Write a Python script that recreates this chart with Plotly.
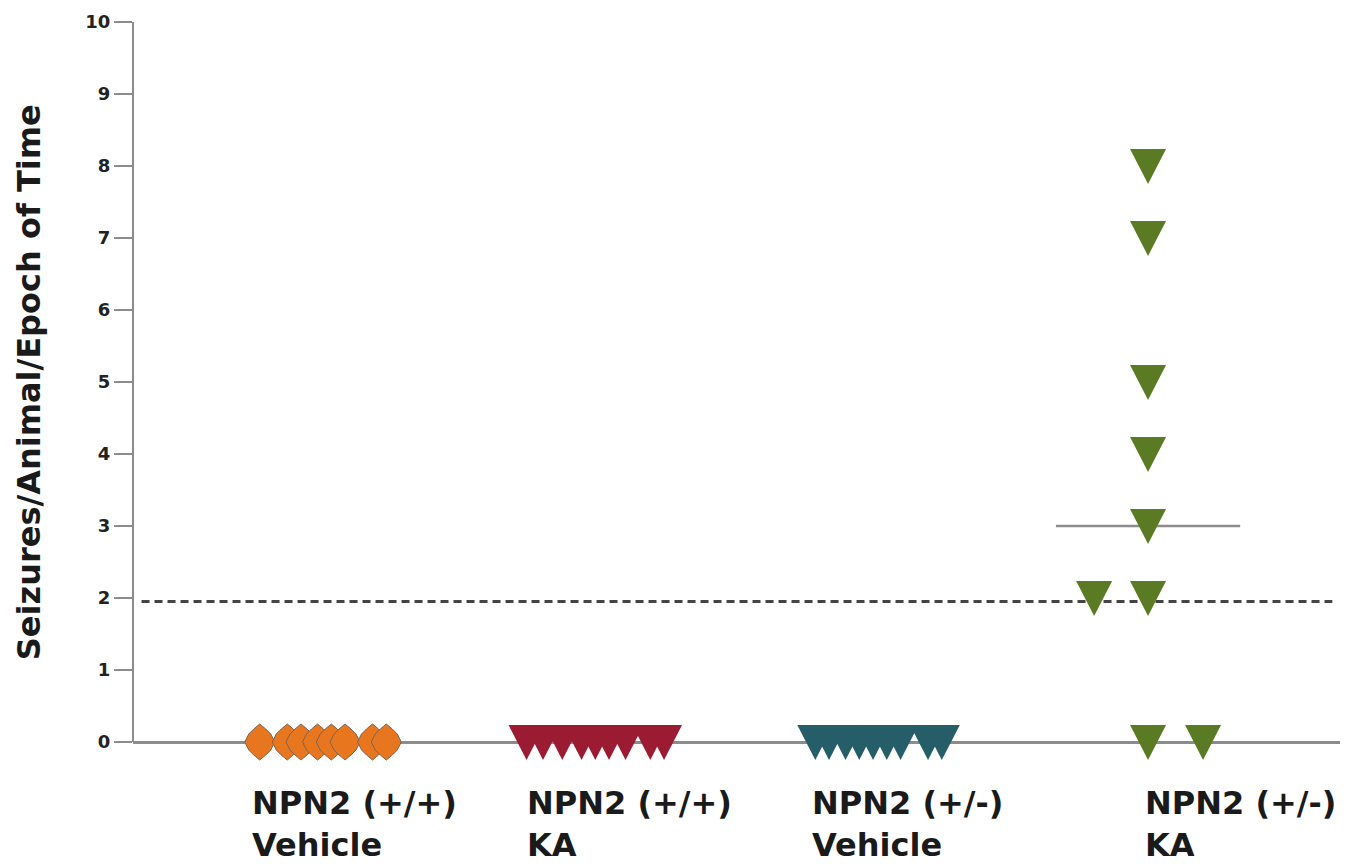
import plotly.graph_objects as go

# Seizure counts per animal for each treatment group
groups = ["NPN2 (+/+)<br>Vehicle", "NPN2 (+/+)<br>KA", "NPN2 (+/-)<br>Vehicle", "NPN2 (+/-)<br>KA"]

wt_vehicle = [0, 0, 0, 0, 0, 0, 0, 0]
wt_ka = [0, 0, 0, 0, 0, 0, 0, 0, 0]
het_vehicle = [0, 0, 0, 0, 0, 0, 0, 0, 0]
het_ka = [8, 7, 5, 4, 3, 2, 2, 0, 0]

# horizontal scatter offsets of each animal within its group
wt_vehicle_jitter = [-0.23, -0.13, -0.08, -0.02, 0.03, 0.08, 0.18, 0.23]
wt_ka_jitter = [-0.26, -0.20, -0.13, -0.06, -0.01, 0.04, 0.10, 0.19, 0.24]
het_vehicle_jitter = [-0.21, -0.16, -0.10, -0.05, 0.00, 0.05, 0.10, 0.20, 0.25]
het_ka_jitter = [0.0, 0.0, 0.0, 0.0, 0.0, -0.196, 0.0, 0.0, 0.2]

median_het_ka = 3
threshold = 1.95

yticks = list(range(0, 11))

FONT = "DejaVu Sans"
AXIS_GREY = "#8c8c8c"

# marker outlines in pixels around each data point (y up)
TRI_DOWN = "M -18,17 L 18,17 L 0,-18 Z"
ROUND_DIAMOND = ("M 0,18 L 6,13 L 11,8 L 15,0 L 11,-8 L 6,-13 L 0,-18 "
                 "L -6,-13 L -11,-8 L -15,0 L -11,8 L -6,13 Z")

series = [
    (0, wt_vehicle, wt_vehicle_jitter, ROUND_DIAMOND, "#E8761F", dict(color="#7d6452", width=1)),
    (1, wt_ka, wt_ka_jitter, TRI_DOWN, "#9B1B32", dict(width=0)),
    (2, het_vehicle, het_vehicle_jitter, TRI_DOWN, "#255E68", dict(width=0)),
    (3, het_ka, het_ka_jitter, TRI_DOWN, "#5A7B24", dict(width=0)),
]

fig = go.Figure()

for idx, vals, jit, path, col, ln in series:
    xs = [idx + j for j in jit]
    # invisible carrier so each animal keeps a hover point
    fig.add_trace(go.Scatter(
        x=xs, y=vals, mode="markers", marker=dict(size=30, opacity=0, color=col),
        cliponaxis=False, showlegend=False, hoverinfo="y",
    ))
    for x, y in zip(xs, vals):
        fig.add_shape(
            type="path", xref="x", yref="y", xsizemode="pixel", ysizemode="pixel",
            xanchor=x, yanchor=y, path=path, fillcolor=col, line=ln, layer="above",
        )

# median bar for the KA-treated heterozygotes
fig.add_trace(go.Scatter(
    x=[3 - 0.335, 3 + 0.335], y=[median_het_ka, median_het_ka], mode="lines",
    line=dict(color=AXIS_GREY, width=2.5), showlegend=False, hoverinfo="skip",
))

# seizure threshold
fig.add_trace(go.Scatter(
    x=[-0.66, 3.67], y=[threshold, threshold], mode="lines",
    line=dict(color="#444444", width=3, dash="8px,5px"), showlegend=False, hoverinfo="skip",
))

# vertical axis line running from 0 up to the top tick
fig.add_shape(type="line", xref="paper", yref="y", x0=0, x1=0,
              y0=yticks[0], y1=yticks[-1], line=dict(color=AXIS_GREY, width=2), layer="below")

# group labels under the axis
label_x = [-0.265, 0.735, 1.771, 2.982]
for lx, g in zip(label_x, groups):
    fig.add_annotation(
        x=lx, y=0, xref="x", yref="y", xanchor="left", yanchor="top",
        yshift=-40, text=g, showarrow=False, align="left",
        font=dict(family=FONT, size=32, color="#1a1a1a", weight="bold"),
    )

# axis title centred on the 0-10 span
fig.add_annotation(
    x=-0.086, y=(yticks[0] + yticks[-1]) / 2, xref="paper", yref="y", textangle=-90,
    xanchor="center", yanchor="middle",
    text="Seizures/Animal/Epoch of Time", showarrow=False,
    font=dict(family=FONT, size=32, color="#1a1a1a", weight="bold"),
)

fig.update_layout(
    width=1353, height=867,
    margin=dict(l=133, r=13, t=22, b=89),
    paper_bgcolor="white", plot_bgcolor="white",
    xaxis=dict(range=[-0.691, 3.698], showgrid=False, zeroline=False,
               showticklabels=False, showline=False, ticks=""),
    yaxis=dict(range=[-0.5, 10], tickvals=yticks, showgrid=False, zeroline=True,
               zerolinecolor=AXIS_GREY, zerolinewidth=2.5, showline=False,
               ticks="outside", ticklen=18, tickcolor=AXIS_GREY, tickwidth=1.5,
               tickfont=dict(family=FONT, size=18, color="#222222", weight="bold")),
)

fig.write_html("out.html")
